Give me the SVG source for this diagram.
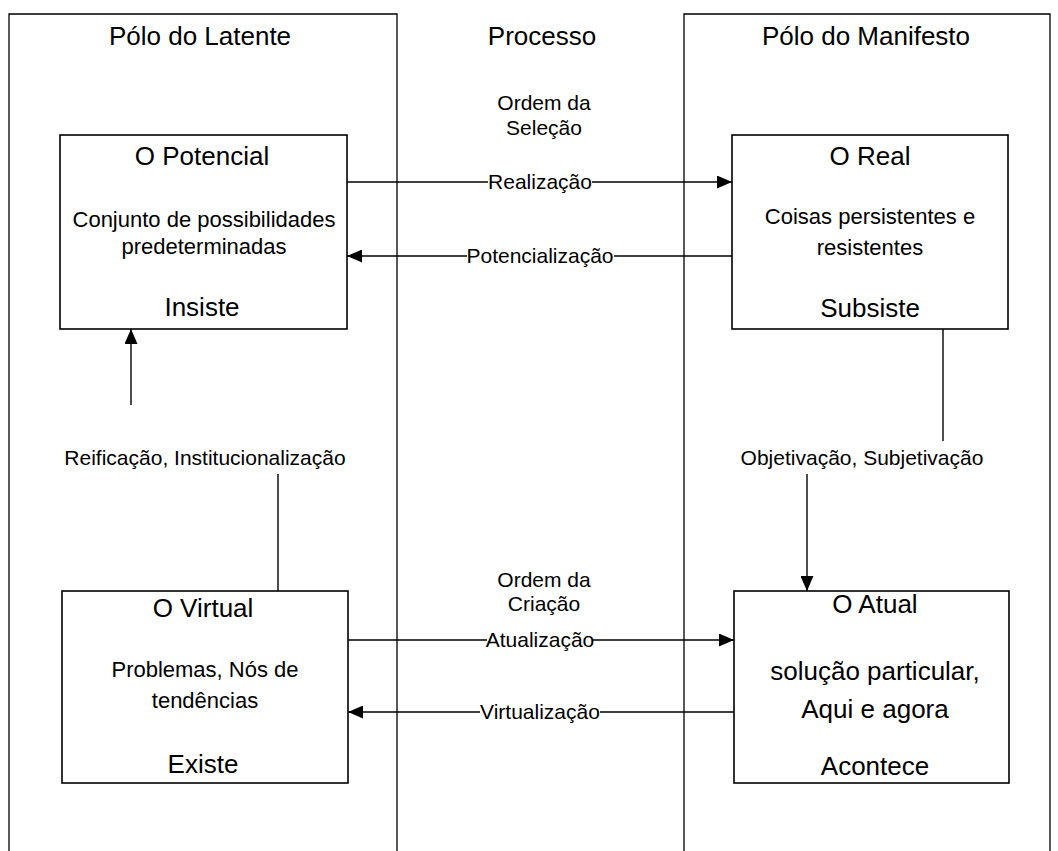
<svg xmlns="http://www.w3.org/2000/svg" width="1058" height="851" viewBox="0 0 1058 851">
<defs>
<style>
text{font-family:"Liberation Sans",Arial,sans-serif;fill:#000;text-anchor:middle}
.pole{fill:none;stroke:#000;stroke-width:1.3}
.box{fill:#fff;stroke:#000;stroke-width:1.6}
.ln{fill:none;stroke:#000;stroke-width:1.4}
.h{font-size:26px}
.t{font-size:26px}
.s{font-size:22px}
.l{font-size:21px}
</style>
<marker id="ah" markerWidth="15" markerHeight="13" refX="15" refY="6.5" orient="auto" markerUnits="userSpaceOnUse">
<path d="M0,0 L15,6.5 L0,13 Z" fill="#000"/>
</marker>
</defs>
<rect width="1058" height="851" fill="#fff"/>
<g id="polo-latente">
<path class="pole" d="M9,851 V14 H397 V851"/>
<text class="h" x="200" y="45">Pólo do Latente</text>
</g>
<g id="processo">
<text class="h" x="542" y="45">Processo</text>
</g>
<g id="polo-manifesto">
<path class="pole" d="M684,851 V14 H1050 V851"/>
<text class="h" x="866" y="45">Pólo do Manifesto</text>
</g>
<g id="ordem-selecao">
<text class="l" x="544" y="110">Ordem da</text>
<text class="l" x="544" y="135">Seleção</text>
</g>
<g id="ordem-criacao">
<text class="l" x="544" y="587">Ordem da</text>
<text class="l" x="544" y="611">Criação</text>
</g>
<g id="connectors">
<line class="ln" x1="347" y1="182" x2="488" y2="182"/>
<line class="ln" x1="592" y1="182" x2="732" y2="182" marker-end="url(#ah)"/>
<text class="l" x="540" y="189">Realização</text>
<line class="ln" x1="467" y1="256" x2="347" y2="256" marker-end="url(#ah)"/>
<line class="ln" x1="732" y1="256" x2="614" y2="256"/>
<text class="l" x="540" y="263">Potencialização</text>
<line class="ln" x1="131" y1="405" x2="131" y2="329" marker-end="url(#ah)"/>
<line class="ln" x1="278" y1="474" x2="278" y2="591"/>
<text class="l" x="205" y="465">Reificação, Institucionalização</text>
<line class="ln" x1="943" y1="329" x2="943" y2="441"/>
<line class="ln" x1="807" y1="474" x2="807" y2="591" marker-end="url(#ah)"/>
<text class="l" x="862" y="465">Objetivação, Subjetivação</text>
<line class="ln" x1="348" y1="640" x2="487" y2="640"/>
<line class="ln" x1="593" y1="640" x2="734" y2="640" marker-end="url(#ah)"/>
<text class="l" x="540" y="647">Atualização</text>
<line class="ln" x1="480" y1="712" x2="348" y2="712" marker-end="url(#ah)"/>
<line class="ln" x1="734" y1="712" x2="600" y2="712"/>
<text class="l" x="540" y="719">Virtualização</text>
</g>
<g id="potencial">
<rect class="box" x="60" y="135" width="287" height="194"/>
<text class="t" x="202" y="165">O Potencial</text>
<text class="s" x="204" y="227">Conjunto de possibilidades</text>
<text class="s" x="204" y="254">predeterminadas</text>
<text class="t" x="202" y="316">Insiste</text>
</g>
<g id="real">
<rect class="box" x="732" y="135" width="276" height="194"/>
<text class="t" x="870" y="165">O Real</text>
<text class="s" x="870" y="224">Coisas persistentes e</text>
<text class="s" x="870" y="255">resistentes</text>
<text class="t" x="870" y="317">Subsiste</text>
</g>
<g id="virtual">
<rect class="box" x="62" y="591" width="286" height="192"/>
<text class="t" x="203" y="617">O Virtual</text>
<text class="s" x="205" y="677">Problemas, Nós de</text>
<text class="s" x="205" y="708">tendências</text>
<text class="t" x="203" y="773">Existe</text>
</g>
<g id="atual">
<rect class="box" x="734" y="591" width="275" height="192"/>
<text class="t" x="875" y="613">O Atual</text>
<text class="t" x="875" y="680">solução particular,</text>
<text class="t" x="875" y="718">Aqui e agora</text>
<text class="t" x="875" y="775">Acontece</text>
</g>
</svg>
